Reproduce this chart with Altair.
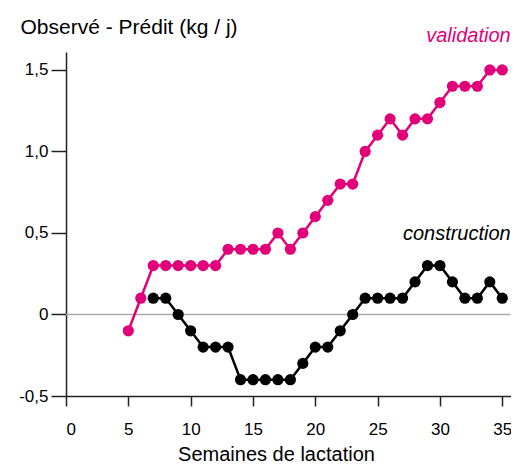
import altair as alt
import pandas as pd

# Data
val_weeks = list(range(5, 36))
val_values = [-0.1, 0.1, 0.3, 0.3, 0.3, 0.3, 0.3, 0.3, 0.4, 0.4, 0.4, 0.4, 0.5, 0.4, 0.5,
              0.6, 0.7, 0.8, 0.8, 1.0, 1.1, 1.2, 1.1, 1.2, 1.2, 1.3, 1.4, 1.4, 1.4, 1.5, 1.5]
con_weeks = list(range(7, 36))
con_values = [0.1, 0.1, 0.0, -0.1, -0.2, -0.2, -0.2, -0.4, -0.4, -0.4, -0.4, -0.4, -0.3,
              -0.2, -0.2, -0.1, 0.0, 0.1, 0.1, 0.1, 0.1, 0.2, 0.3, 0.3, 0.2, 0.1, 0.1, 0.2, 0.1]
x_ticks = [0, 5, 10, 15, 20, 25, 30, 35]
y_ticks = [-0.5, 0, 0.5, 1.0, 1.5]

PINK = "#E2007A"
BLACK = "#000000"
FONT = "Liberation Sans"

val_df = pd.DataFrame({"week": val_weeks, "value": val_values})
con_df = pd.DataFrame({"week": con_weeks, "value": con_values})

x_scale = alt.Scale(domain=[0, 35.7], nice=False, zero=False)
y_scale = alt.Scale(domain=[-0.5, 1.61], nice=False, zero=False)

x_enc = alt.X("week:Q", scale=x_scale, axis=alt.Axis(
    values=x_ticks, title="Semaines de lactation", grid=False,
    tickSize=10, labelPadding=15, labelFontSize=17, labelFont=FONT,
    titleFont=FONT, titleFontSize=20, titleFontWeight="normal",
    titleY=64, titleBaseline="alphabetic", titleX=210, titleAlign="center",
    domainColor="#222", tickColor="#222", domainWidth=1.5, tickWidth=1.5,
    labelColor="black", titleColor="black"))
y_enc = alt.Y("value:Q", scale=y_scale, axis=alt.Axis(
    values=y_ticks, title="Observé - Prédit (kg / j)", grid=False,
    tickSize=15, labelPadding=3, labelFontSize=17, labelFont=FONT,
    labelExpr="datum.value == 0 ? '0' : (datum.value < 0 ? '-' : '') + replace(format(abs(datum.value), '.1f'), '.', ',')",
    titleFont=FONT, titleFontSize=21, titleFontWeight="normal",
    titleAngle=0, titleAlign="left", titleBaseline="alphabetic",
    titleX=-46, titleY=-19,
    domainColor="#222", tickColor="#222", domainWidth=1.5, tickWidth=1.5,
    labelColor="black", titleColor="black"))

zero = alt.Chart(pd.DataFrame({"x": [0], "x2": [35.65], "y": [0]})).mark_rule(
    color="#aaaaaa", strokeWidth=1.5).encode(
    x=alt.X("x:Q", scale=x_scale), x2="x2:Q", y=alt.Y("y:Q", scale=y_scale))

def series(df, color):
    base = alt.Chart(df).encode(x=x_enc, y=y_enc)
    return base.mark_line(color=color, strokeWidth=2.5) + base.mark_circle(
        color=color, size=125, opacity=1)

labels = pd.DataFrame({
    "x": [35.68, 35.68],
    "y": [1.67, 0.457],
    "t": ["validation", "construction"],
    "c": [PINK, BLACK],
})
text = alt.Chart(labels).mark_text(
    align="right", baseline="alphabetic", fontStyle="italic", fontSize=20, font=FONT).encode(
    x=alt.X("x:Q", scale=x_scale), y=alt.Y("y:Q", scale=y_scale), text="t:N",
    color=alt.Color("c:N", scale=None))

chart = alt.layer(zero, series(con_df, BLACK), series(val_df, PINK), text).properties(
    width=445, height=344,
    autosize=alt.AutoSizeParams(type="none"),
    padding={"left": 58, "top": 44, "right": 0, "bottom": 69},
    background="white",
).configure_view(stroke=None)

chart.save("out.html", embed_options={"renderer": "svg", "actions": False})
